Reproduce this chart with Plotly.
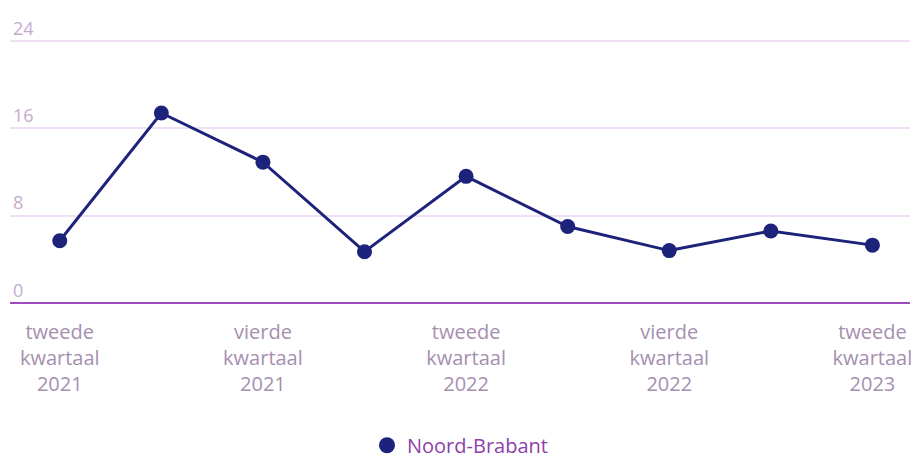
import plotly.graph_objects as go

quarters = [
    "tweede kwartaal 2021", "derde kwartaal 2021", "vierde kwartaal 2021",
    "eerste kwartaal 2022", "tweede kwartaal 2022", "derde kwartaal 2022",
    "vierde kwartaal 2022", "eerste kwartaal 2023", "tweede kwartaal 2023",
]
values = [5.7, 17.4, 12.9, 4.7, 11.6, 7.0, 4.8, 6.6, 5.3]
series_name = "Noord-Brabant"
tick_quarters = [quarters[i] for i in (0, 2, 4, 6, 8)]
tick_text = ["tweede<br>kwartaal<br>2021", "vierde<br>kwartaal<br>2021",
             "tweede<br>kwartaal<br>2022", "vierde<br>kwartaal<br>2022",
             "tweede<br>kwartaal<br>2023"]
y_ticks = [0, 8, 16, 24]

color = "#1d237a"

fig = go.Figure()
fig.add_trace(go.Scatter(
    x=quarters, y=values, name=series_name, mode="lines+markers",
    line=dict(color=color, width=3),
    marker=dict(color=color, size=15),
    showlegend=False,
))
# legend entry: marker only
fig.add_trace(go.Scatter(
    x=[None], y=[None], name=series_name, mode="markers",
    marker=dict(color=color, size=20), showlegend=True,
))

fig.update_layout(
    width=913, height=460,
    margin=dict(l=10, r=3, t=6, b=157),
    paper_bgcolor="white", plot_bgcolor="white",
    font=dict(family="Open Sans", color="#a58fb0"),
    showlegend=True,
    legend=dict(orientation="h", x=0.5, xanchor="center",
                yref="container", y=0.032, yanchor="middle",
                font=dict(size=20, color="#8e3fa8"), itemsizing="trace",
                itemwidth=30),
    xaxis=dict(
        type="category", range=[-0.49, 8.37], automargin=False,
        tickmode="array", tickvals=tick_quarters, ticktext=tick_text,
        tickfont=dict(size=20, color="#a58fb0"),
        showgrid=False, zeroline=False, showline=False, ticks="",
        ticklabelstandoff=15,
    ),
    yaxis=dict(
        range=[0, 27.2], tickmode="array", tickvals=y_ticks, automargin=False,
        ticklabelposition="inside top",
        tickfont=dict(size=18, color="#c4acd0"),
        gridcolor="#f1e0f5", gridwidth=2,
        zeroline=True, zerolinecolor="#9b4dbf", zerolinewidth=2,
        showline=False, ticks="",
    ),
)

fig.write_html("out.html", config={"displayModeBar": False},
               post_script="document.body.style.margin='0';")
